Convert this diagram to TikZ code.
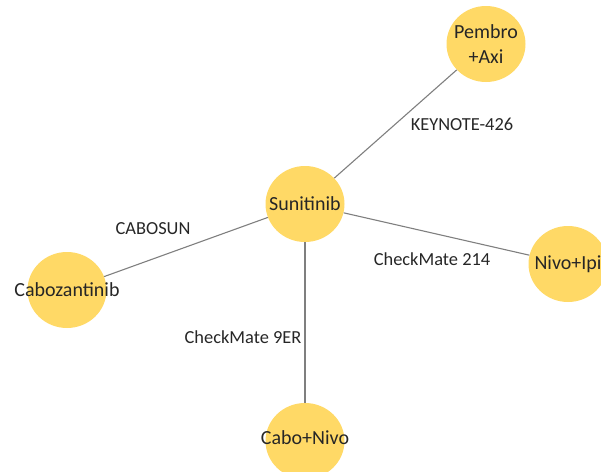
\documentclass[tikz,border=0pt]{standalone}
\usepackage{fontspec}
\setmainfont{Carlito}
\usepackage{tikz}
\usetikzlibrary{calc,positioning,shapes.geometric}
\definecolor{drugfill}{HTML}{FFD966}
\definecolor{edgegray}{HTML}{7F7F7F}
\definecolor{txtgray}{HTML}{262626}

\begin{document}
\begin{tikzpicture}[x=1pt,y=-1pt,
        drug/.style={ellipse,fill=drugfill,minimum width=79pt,minimum height=76pt,inner sep=0pt},
        drugname/.style={text=txtgray,font=\fontsize{20}{25}\selectfont,align=center,inner sep=0pt},
        trial/.style={text=txtgray,font=\fontsize{18.4}{22}\selectfont,inner sep=0pt},
        link/.style={edgegray,line width=1.1pt}]
        \useasboundingbox (0,0) rectangle (601,471);
        % drugs
        \node[drug] (sun) at (305,204) {};
        \node[drug] (pem) at (486,44) {};
        \node[drug] (cab) at (67,290) {};
        \node[drug] (niv) at (568,264) {};
        \node[drug] (cbn) at (305,441) {};
        \node[drugname] (sun-t) at (sun) {Sunitinib};
        \node[drugname] (pem-t) at (pem) {Pembro\\+Axi};
        \node[drugname] (cab-t) at (cab) {Cabozantinib};
        \node[drugname] (niv-t) at (niv) {Nivo+Ipi};
        \node[drugname] (cbn-t) at ($(cbn)+(0,-3)$) {Cabo+Nivo};
        % trials
        \draw[link] (sun)--(pem);
        \draw[link] (sun)--(cab);
        \draw[link] (sun)--(niv);
        \draw[link] (sun)--(cbn);
        \node[trial] (kn426) at (462,124) {KEYNOTE-426};
        \node[trial] (cabosun) at (153,229) {CABOSUN};
        \node[trial] (cm214) at (432,259) {CheckMate 214};
        \node[trial] (cm9er) at (243,337) {CheckMate 9ER};
\end{tikzpicture}
\end{document}
